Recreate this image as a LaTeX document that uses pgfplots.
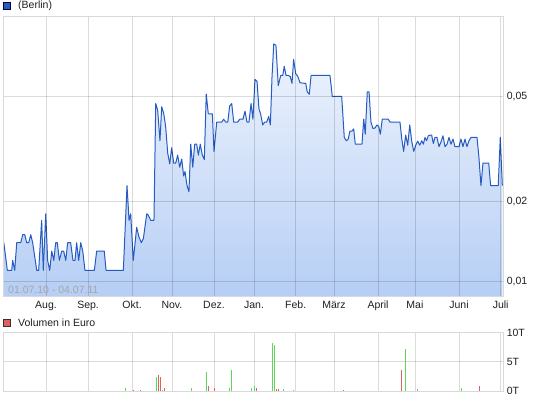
\documentclass[border=0pt]{standalone}
\usepackage{fontspec}
\setmainfont{Liberation Sans}
\usepackage{pgfplots}
\usepackage{pgfplotstable}
\pgfplotsset{compat=1.18}
\definecolor{lineblue}{RGB}{38,92,194}
\definecolor{filltop}{RGB}{238,244,253}
\definecolor{fillbot}{RGB}{182,206,245}
\definecolor{gridgray}{RGB}{217,217,217}
\definecolor{volgreen}{RGB}{98,214,90}
\definecolor{volred}{RGB}{222,96,96}
\definecolor{datetext}{RGB}{165,165,165}

\pgfplotstableread{
day value
0 0.014
2.6 0.011
5.8 0.011
6.5 0.012
8.0 0.011
9.5 0.014
12.4 0.014
13.9 0.015
15.4 0.015
16.8 0.014
18.3 0.014
19.8 0.015
21.2 0.014
24.2 0.011
25.6 0.011
27.8 0.017
29.0 0.011
30.8 0.018
32.2 0.012
33.7 0.011
35.2 0.013
36.7 0.012
38.1 0.014
39.3 0.014
40.8 0.012
42.5 0.013
44.0 0.013
45.5 0.012
46.9 0.014
49.1 0.014
50.8 0.012
52.3 0.012
53.5 0.014
55.0 0.012
56.5 0.014
58.0 0.013
59.6 0.011
66.5 0.011
68.2 0.013
73.8 0.013
75.1 0.011
87.8 0.011
90.5 0.023
92.0 0.017
93.2 0.018
95.1 0.012
97.6 0.016
99.3 0.0147
101.0 0.014
102.5 0.0145
105.0 0.018
106.1 0.0178
107.9 0.017
110.3 0.017
111.6 0.047
113.0 0.0444
114.7 0.034
116.0 0.0457
117.5 0.043
118.9 0.0384
120.4 0.0305
121.9 0.0278
123.3 0.032
124.8 0.028
126.3 0.028
127.7 0.030
129.2 0.027
130.7 0.029
132.1 0.025
133.1 0.026
134.6 0.023
136.0 0.0218
137.3 0.033
138.8 0.027
140.2 0.033
141.7 0.033
142.9 0.030
144.3 0.033
145.8 0.030
147.3 0.0289
148.7 0.051
150.2 0.043
153.2 0.043
154.4 0.031
156.4 0.040
160.1 0.040
161.5 0.041
163.0 0.040
164.5 0.040
165.9 0.046
167.4 0.047
168.9 0.040
171.8 0.040
173.3 0.041
175.7 0.041
177.2 0.044
178.6 0.040
180.1 0.040
181.6 0.047
183.0 0.041
184.5 0.058
186.0 0.057
187.4 0.045
188.7 0.0428
190.2 0.039
191.6 0.040
193.1 0.040
194.6 0.042
195.8 0.039
197.0 0.059
198.3 0.079
199.9 0.078
201.6 0.055
203.4 0.060
204.9 0.060
206.0 0.065
207.3 0.060
209.0 0.060
210.4 0.0595
211.7 0.056
212.9 0.069
214.4 0.061
215.9 0.0596
217.6 0.0563
221.8 0.056
222.9 0.052
224.4 0.051
225.7 0.060
239.6 0.060
241.3 0.050
248.2 0.050
250.1 0.035
251.6 0.034
253.0 0.0345
254.3 0.037
255.8 0.037
257.0 0.0377
258.2 0.033
263.1 0.033
264.4 0.041
265.5 0.036
267.0 0.052
268.3 0.052
269.7 0.040
271.2 0.0378
272.7 0.038
274.1 0.039
275.4 0.0385
276.6 0.036
278.0 0.041
282.4 0.041
283.7 0.040
291.0 0.040
292.3 0.0347
293.7 0.031
295.2 0.0357
296.7 0.0327
298.2 0.039
299.6 0.034
301.1 0.031
302.6 0.0327
304.0 0.0339
305.5 0.0327
307.0 0.034
308.2 0.033
309.4 0.035
310.6 0.034
311.8 0.0355
313.1 0.0357
314.3 0.0357
315.5 0.0332
316.7 0.035
318.2 0.035
319.7 0.0323
321.2 0.0337
322.6 0.0355
324.1 0.0323
325.6 0.033
327.0 0.035
328.5 0.033
330.0 0.0345
331.4 0.0323
334.4 0.0323
335.8 0.0345
337.3 0.0323
338.8 0.0345
340.2 0.0323
341.7 0.034
343.2 0.035
347.6 0.035
349.0 0.0295
350.5 0.023
352.0 0.028
356.2 0.028
357.6 0.023
363.2 0.023
364.7 0.035
366.2 0.023
}\pricedata

\pgfplotstableread{
day vol
89.2 0.5
112.0 2.45
116.4 0.2
137.7 0.55
148.7 3.26
165.9 0.5
167.1 3.6
182.1 0.5
184.3 0.8
197.2 8.2
198.7 7.95
205.3 0.4
212.6 0.2
294.9 7.2
303.7 0.4
336.0 0.5
}\volgreendata

\pgfplotstableread{
day vol
95.1 0.2
100.3 0.2
113.5 2.75
115.0 2.4
117.9 0.5
150.2 0.86
154.6 0.6
185.8 0.5
200.2 0.4
201.6 0.4
249.4 0.2
292.0 3.6
349.3 0.86
}\volreddata

\pgfplotsset{
  common/.style={
    scale only axis, width=500bp,
    xmin=-0.6, xmax=366.7,
    xtick={31,61.9,94.2,123.5,154.4,183.8,214.4,242.5,274.9,302,334.4,365},
    grid=major,
    grid style={draw=black, opacity=0.14, line width=0.8bp},
    major tick length=0pt,
    axis line style={draw=gridgray, line width=0.8bp},
    tick label style={font=\fontsize{10.5bp}{12bp}\selectfont, inner sep=0pt, text=black!88},
    yticklabel pos=right,
    yticklabel style={xshift=3.6bp},
    xticklabel style={yshift=-4.6bp},
  }
}

\begin{document}
\fontsize{10.5bp}{12bp}\selectfont
\begin{tikzpicture}
\useasboundingbox (0,0) rectangle (545bp,401bp);
\begin{axis}[common,
  at={(3bp,105bp)}, anchor=south west,
  height=280bp,
  ymode=log, ymin=0.0088, ymax=0.1007,
  log origin y=infty,
  ytick={0.01,0.02,0.05}, yticklabels={{0,01},{0,02},{0,05}},
  xticklabels={Aug.,Sep.,Okt.,Nov.,Dez.,Jan.,Feb.,März,April,Mai,Juni,Juli},
  axis on top,
]
\addplot[draw=none, top color=filltop, bottom color=fillbot] table[x=day,y=value] {\pricedata} \closedcycle;
\addplot[lineblue, line width=1bp, line join=round] table[x=day,y=value] {\pricedata};
\end{axis}

\begin{axis}[common,
  at={(3bp,10bp)}, anchor=south west,
  height=58.3bp,
  ymin=0, ymax=10,
  ytick={0,5,10}, yticklabels={0T,5T,10T},
  xticklabels={},
]
\addplot[ycomb, volgreen, line width=1bp, mark=none] table[x=day,y=vol] {\volgreendata};
\addplot[ycomb, volred, line width=1bp, mark=none] table[x=day,y=vol] {\volreddata};
\end{axis}

% legends and captions
\filldraw[fill=lineblue, draw=black!75!blue, line width=0.7bp] (3.8bp,391.8bp) rectangle (10.2bp,398.2bp);
\node[anchor=west, inner sep=0pt, text=black!88] at (18bp,395bp) {(Berlin)};
\filldraw[fill=volred, draw=black!80, line width=0.7bp] (3.8bp,74.8bp) rectangle (10.2bp,81.2bp);
\node[anchor=west, inner sep=0pt, text=black!88] at (18bp,78bp) {Volumen in Euro};
\node[anchor=west, inner sep=0pt, text=datetext] at (8bp,111bp) {01.07.10 - 04.07.11};
\end{tikzpicture}
\end{document}
